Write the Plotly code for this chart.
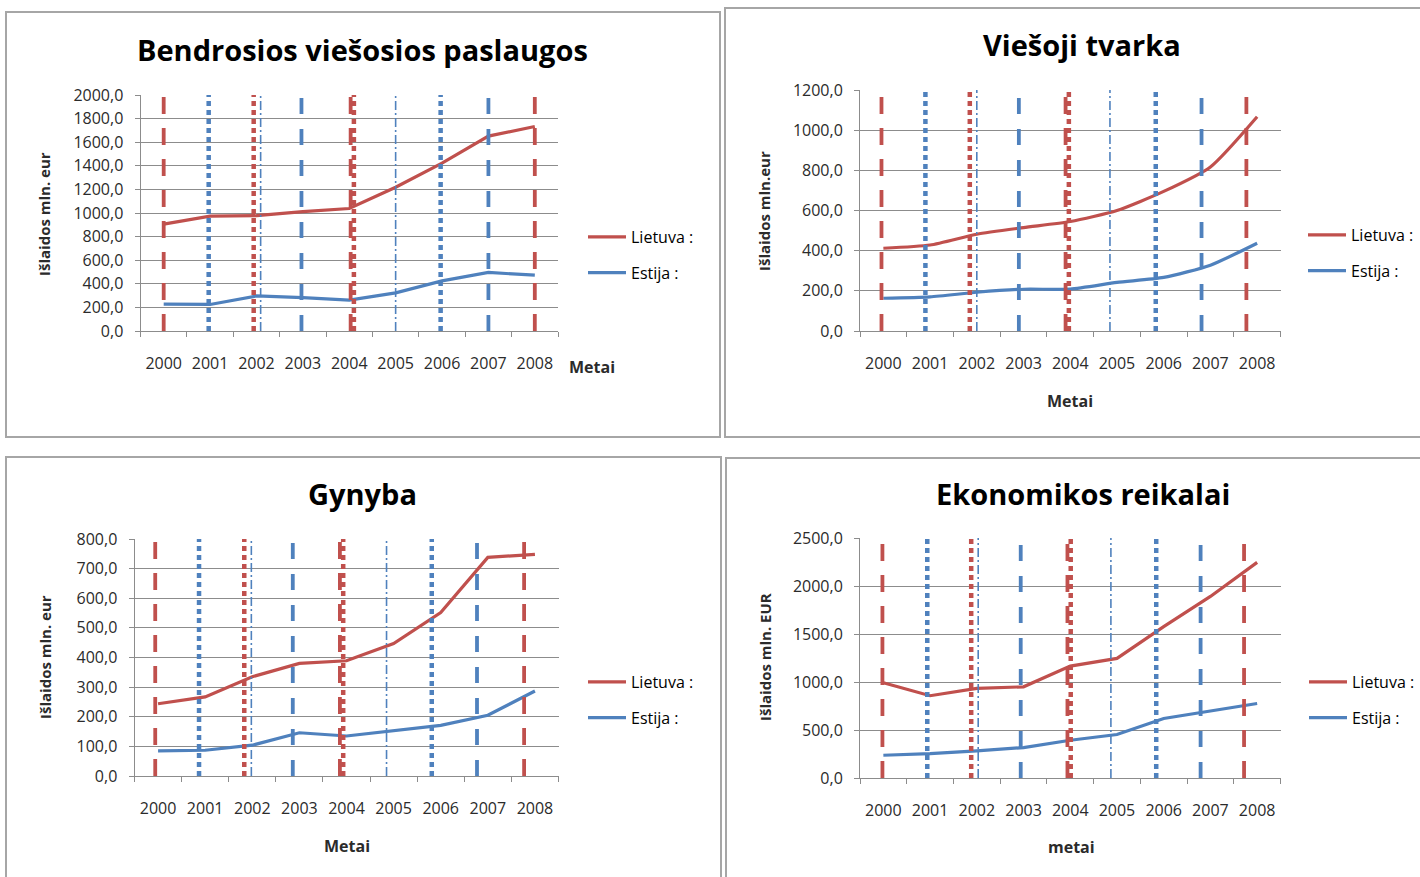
import plotly.graph_objects as go

W, H = 1420, 877

years = ["2000", "2001", "2002", "2003", "2004", "2005", "2006", "2007", "2008"]

# Bendrosios viešosios paslaugos
bvp_lt = [906, 974, 977, 1011, 1038, 1218, 1422, 1652, 1733]
bvp_ee = [227, 225, 297, 283, 261, 323, 425, 496, 473]
# Viešoji tvarka
vt_lt = [412, 428, 482, 515, 545, 600, 695, 817, 1067]
vt_ee = [163, 170, 193, 208, 209, 242, 267, 328, 437]
# Gynyba
gyn_lt = [244, 267, 335, 380, 389, 447, 552, 738, 748]
gyn_ee = [85, 87, 104, 146, 135, 152, 171, 205, 287]
# Ekonomikos reikalai
eko_lt = [992, 857, 933, 950, 1166, 1246, 1577, 1891, 2246]
eko_ee = [237, 254, 282, 317, 393, 453, 620, 700, 776]

titles = ["Bendrosios viešosios paslaugos", "Viešoji tvarka", "Gynyba", "Ekonomikos reikalai"]
ytitles = ["Išlaidos mln. eur", "Išlaidos mln.eur", "Išlaidos mln. eur", "Išlaidos mln. EUR"]
xtitles = ["Metai", "Metai", "Metai", "metai"]
y_max = [2000, 1200, 800, 2500]
y_step = [200, 200, 100, 500]
series_names = ["Lietuva :", "Estija :"]

RED = "#C0504D"
BLUE = "#4F81BD"
GRID = "#8C8C8C"
TXT = "#2B2B2B"


def px(x):
    return x / W


def py(y):
    return 1 - y / H


# layout geometry (pixels): plot area x0, x1, y_top, y_bottom
plot_px = [
    (140.5, 558, 95, 331),
    (860, 1280.5, 90, 331),
    (134.5, 558.5, 539, 776),
    (860, 1280.5, 538, 778),
]
title_px = [(362, 50), (1082, 45), (362, 493), (1083, 493)]
ytitle_px = [(44, 214), (764, 211), (45, 657), (765, 657)]
xtitle_px = [(592, 367), (1070, 401), (347, 846), (1071, 847)]
legend_px = [(583, 220), (1303, 218), (583, 665), (1304, 665)]
panel_px = [(6, 12, 720, 437), (725, 8, 1426, 437), (6, 457, 721, 886), (726, 458, 1426, 886)]

# decorative vertical marker lines: (kind) per year, offsets per chart (category units)
marker_kinds = ["red_dash", "blue_dot", "red_dot+blue_dashdot", "blue_dash", "red_combo",
                "blue_dashdot", "blue_dot", "blue_dash", "red_dash"]
marker_offsets = [
    [0.0, -0.03, -0.06, -0.03, 0.07, 0.0, -0.03, 0.0, 0.0],
    [-0.04, -0.10, -0.15, -0.10, -0.06, -0.15, -0.17, -0.19, -0.23],
    [-0.06, -0.13, -0.17, -0.14, -0.10, -0.15, -0.19, -0.23, -0.23],
    [-0.02, -0.06, -0.12, -0.06, -0.02, -0.13, -0.16, -0.21, -0.28],
]

styles = {
    "red_dash": dict(color=RED, width=3.8, dash="17px,14px"),
    "blue_dash": dict(color=BLUE, width=3.8, dash="16px,15px"),
    "blue_dot": dict(color=BLUE, width=4.5, dash="5px,4px"),
    "red_dot": dict(color=RED, width=4.5, dash="5px,4px"),
    "blue_dashdot": dict(color=BLUE, width=1.6, dash="9px,3px,2px,3px"),
}

data = [(bvp_lt, bvp_ee), (vt_lt, vt_ee), (gyn_lt, gyn_ee), (eko_lt, eko_ee)]
shape_mode = ["linear", "spline", "linear", "linear"]

fig = go.Figure()
shapes = []
annotations = []
layout_extra = {}

for i in range(4):
    ax = "" if i == 0 else str(i + 1)
    xa, ya = "x" + ax, "y" + ax
    lg = "legend" if i == 0 else "legend" + str(i + 1)
    for j, (vals, col) in enumerate(zip(data[i], [RED, BLUE])):
        fig.add_trace(go.Scatter(
            x=years, y=vals, mode="lines", name=series_names[j],
            line=dict(color=col, width=3.2, shape=shape_mode[i], smoothing=0.6),
            xaxis=xa, yaxis=ya, legend=lg, legendgroup=f"g{i}{j}",
            hoverinfo="skip",
        ))
    x0, x1, yt, yb = plot_px[i]
    layout_extra["xaxis" + ax] = dict(
        domain=[px(x0), px(x1)], anchor=ya, type="category",
        categoryorder="array", categoryarray=years, automargin=False,
        range=[-0.5, 8.5], tickson="boundaries", ticks="outside", ticklen=5,
        tickcolor=GRID, showline=True, linecolor=GRID, linewidth=1,
        showgrid=False, zeroline=False, ticklabelstandoff=18,
        tickfont=dict(family="Open Sans", size=16, color=TXT),
    )
    layout_extra["yaxis" + ax] = dict(
        domain=[py(yb), py(yt)], anchor=xa, range=[0, y_max[i]], automargin=False,
        dtick=y_step[i], tick0=0, tickformat=".1f", ticks="outside", ticklen=5,
        tickcolor=GRID, showline=True, linecolor=GRID, linewidth=1,
        showgrid=True, gridcolor=GRID, gridwidth=1, zeroline=False,
        ticklabelstandoff=8,
        tickfont=dict(family="Open Sans", size=16, color=TXT),
    )
    # vertical decorative lines
    for k, kind in enumerate(marker_kinds):
        off = marker_offsets[i][k]
        top = y_max[i] * 1.01
        if kind == "red_dot+blue_dashdot":
            parts = [("red_dot", off), ("blue_dashdot", off + 0.15)]
        elif kind == "red_combo":
            parts = [("red_dash", off - 0.04), ("red_dot", off + 0.03)]
        else:
            parts = [(kind, off)]
        for st, o in parts:
            shapes.append(dict(type="line", xref=xa, yref=ya, x0=k + o, x1=k + o,
                               y0=0, y1=top, line=styles[st], layer="above"))
    # panel border
    bx0, by0, bx1, by1 = panel_px[i]
    shapes.append(dict(type="rect", xref="paper", yref="paper",
                       x0=px(bx0), x1=px(bx1), y0=py(by1), y1=py(by0),
                       line=dict(color="#A6A6A6", width=2), layer="below"))
    # titles
    tx, ty = title_px[i]
    annotations.append(dict(text=f"<b>{titles[i]}</b>", x=px(tx), y=py(ty), xref="paper", yref="paper",
                            showarrow=False, xanchor="center", yanchor="middle",
                            font=dict(family="Open Sans", size=29, color="#000000")))
    yx, yy = ytitle_px[i]
    annotations.append(dict(text=f"<b>{ytitles[i]}</b>", x=px(yx), y=py(yy), xref="paper", yref="paper",
                            showarrow=False, xanchor="center", yanchor="middle", textangle=-90,
                            font=dict(family="Open Sans", size=15, color=TXT)))
    xx, xy = xtitle_px[i]
    annotations.append(dict(text=f"<b>{xtitles[i]}</b>", x=px(xx), y=py(xy), xref="paper", yref="paper",
                            showarrow=False, xanchor="center", yanchor="middle",
                            font=dict(family="Open Sans", size=16, color=TXT)))
    lx, ly = legend_px[i]
    layout_extra[lg] = dict(x=px(lx), y=py(ly), xanchor="left", yanchor="top",
                            xref="paper", yref="paper", bgcolor="rgba(0,0,0,0)",
                            traceorder="grouped", tracegroupgap=12, itemwidth=38,
                            font=dict(family="Open Sans", size=16, color="#000000"))

fig.update_layout(
    width=W, height=H, autosize=False,
    margin=dict(l=0, r=0, t=0, b=0, pad=0, autoexpand=False),
    paper_bgcolor="white", plot_bgcolor="white",
    separators=", ",
    shapes=shapes, annotations=annotations,
    showlegend=True,
    **layout_extra,
)

fig.write_html("out.html")
